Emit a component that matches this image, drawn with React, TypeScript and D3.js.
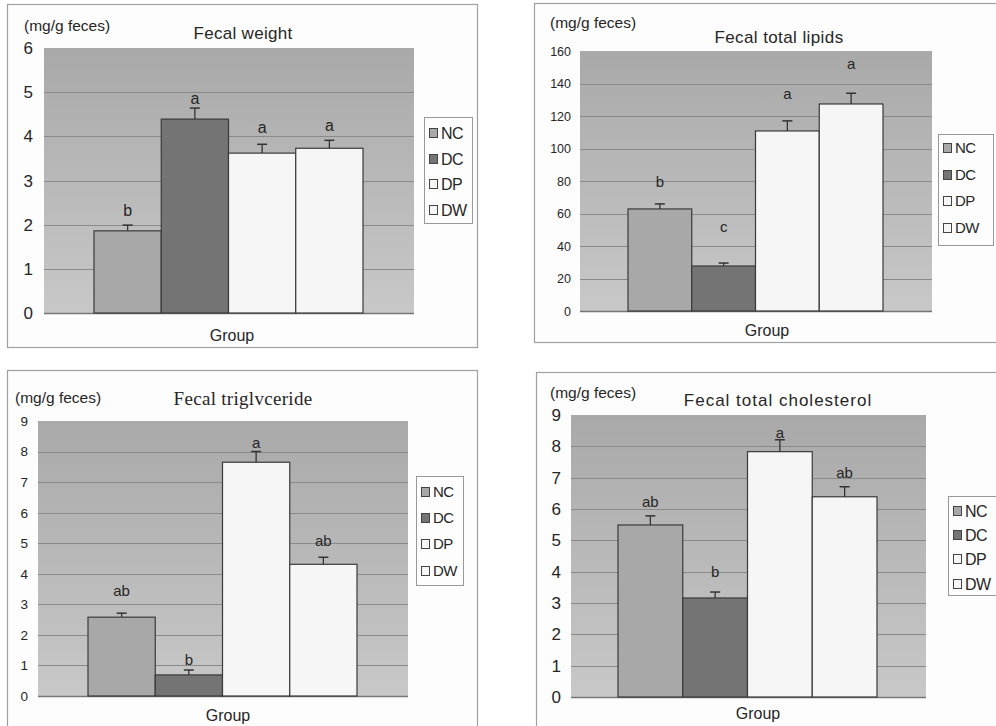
import React from "react";
import * as d3 from "d3";

const groups = ["NC", "DC", "DP", "DW"];
const groupColors = ["#a8a8a8", "#747474", "#f6f6f6", "#f6f6f6"];

const weightMeans = [1.86, 4.39, 3.62, 3.73];
const weightErr = [0.13, 0.25, 0.2, 0.18];
const weightLetters = ["b", "a", "a", "a"];
const weightLetterAt = [2.33, 4.86, 4.21, 4.25];
const weightTicks = [0, 1, 2, 3, 4, 5, 6];

const lipidMeans = [62.8, 27.7, 110.8, 127.4];
const lipidErr = [3.1, 1.8, 6.2, 6.6];
const lipidLetters = ["b", "c", "a", "a"];
const lipidLetterAt = [79.6, 52, 134, 152];
const lipidTicks = [0, 20, 40, 60, 80, 100, 120, 140, 160];

const tgMeans = [2.58, 0.69, 7.65, 4.31];
const tgErr = [0.13, 0.16, 0.35, 0.23];
const tgLetters = ["ab", "b", "a", "ab"];
const tgLetterAt = [3.43, 1.18, 8.3, 5.07];
const tgTicks = [0, 1, 2, 3, 4, 5, 6, 7, 8, 9];

const cholMeans = [5.49, 3.16, 7.83, 6.39];
const cholErr = [0.29, 0.19, 0.38, 0.32];
const cholLetters = ["ab", "b", "a", "ab"];
const cholLetterAt = [6.23, 3.99, 8.43, 7.16];
const cholTicks = [0, 1, 2, 3, 4, 5, 6, 7, 8, 9];

const unitLabel = "(mg/g feces)";
const xLabel = "Group";

type PanelCfg = {
  id: string;
  title: string;
  titleFont: string;
  means: number[];
  errs: number[];
  letters: string[];
  letterAt: number[];
  ticks: number[];
  box: [number, number, number, number];
  plot: [number, number, number, number];
  bars: [number, number];
  tickFont: number;
  tickX: number;
  unitXY: [number, number];
  titleXY: [number, number];
  titleSize: number;
  titleSpacing: number;
  groupXY: [number, number];
  legend: [number, number, number, number];
  legendItemsY: number[];
  legendFont: number;
  letterFont: number;
};

const sans = "'Liberation Sans', Arial, sans-serif";
const serif = "'Liberation Serif', 'DejaVu Serif', serif";
const ink = "#262626";

const panels: PanelCfg[] = [
  {
    id: "p1", title: "Fecal weight", titleFont: sans,
    means: weightMeans, errs: weightErr, letters: weightLetters, letterAt: weightLetterAt, ticks: weightTicks,
    box: [7, 4, 477, 347], plot: [44, 48, 414, 313], bars: [94, 363],
    tickFont: 17, tickX: 33, unitXY: [24, 26], titleXY: [243, 33], titleSize: 17, titleSpacing: 0.3,
    groupXY: [232, 335], legend: [424, 117, 472, 223], legendItemsY: [133, 159, 184, 210], legendFont: 16, letterFont: 16,
  },
  {
    id: "p2", title: "Fecal total lipids", titleFont: sans,
    means: lipidMeans, errs: lipidErr, letters: lipidLetters, letterAt: lipidLetterAt, ticks: lipidTicks,
    box: [534, 3, 1010, 342], plot: [580, 51, 932, 311], bars: [628, 883],
    tickFont: 12.5, tickX: 571, unitXY: [550, 23], titleXY: [779, 37], titleSize: 17, titleSpacing: 0.4,
    groupXY: [767, 330], legend: [938, 134, 993, 245], legendItemsY: [148, 175, 201, 228], legendFont: 15, letterFont: 15,
  },
  {
    id: "p3", title: "Fecal triglvceride", titleFont: serif,
    means: tgMeans, errs: tgErr, letters: tgLetters, letterAt: tgLetterAt, ticks: tgTicks,
    box: [7, 370, 477, 740], plot: [38, 421, 408, 696], bars: [88, 357],
    tickFont: 13.5, tickX: 28, unitXY: [15, 398], titleXY: [243, 398], titleSize: 19, titleSpacing: 0.3,
    groupXY: [228, 715], legend: [416, 476, 463, 585], legendItemsY: [492, 518, 544, 571], legendFont: 15, letterFont: 15,
  },
  {
    id: "p4", title: "Fecal total cholesterol", titleFont: sans,
    means: cholMeans, errs: cholErr, letters: cholLetters, letterAt: cholLetterAt, ticks: cholTicks,
    box: [536, 372, 1010, 740], plot: [571, 415, 926, 697], bars: [618, 877],
    tickFont: 17, tickX: 561, unitXY: [550, 393], titleXY: [778, 400], titleSize: 17, titleSpacing: 1,
    groupXY: [758, 713], legend: [948, 496, 1010, 595], legendItemsY: [511, 535, 559, 584], legendFont: 16, letterFont: 15,
  },
];

function Panel({ c }: { c: PanelCfg }) {
  const [px0, py0, px1, py1] = c.plot;
  const y = d3.scaleLinear().domain([0, c.ticks[c.ticks.length - 1]]).range([py1, py0]);
  const x = d3.scaleBand<string>().domain(groups).range(c.bars).paddingInner(0).paddingOuter(0);
  const bw = x.bandwidth();
  const [lx0, ly0, lx1, ly1] = c.legend;
  return (
    <g>
      <rect x={c.box[0] + 0.5} y={c.box[1] + 0.5} width={c.box[2] - c.box[0]} height={c.box[3] - c.box[1]} fill="#fdfdfd" stroke="#a0a0a0" strokeWidth={1.2} />
      <rect x={px0} y={py0} width={px1 - px0} height={py1 - py0} fill="url(#bgGrad)" />
      {c.ticks.slice(1, -1).map((t) => (
        <line key={t} x1={px0} x2={px1} y1={Math.round(y(t)) + 0.5} y2={Math.round(y(t)) + 0.5} stroke="#8a8a8a" strokeWidth={1} />
      ))}
      <line x1={px0} x2={px1} y1={py1 + 0.5} y2={py1 + 0.5} stroke="#777" strokeWidth={1.5} />
      {c.ticks.map((t) => (
        <text key={t} x={c.tickX} y={y(t)} dy="0.36em" textAnchor="end" fontFamily={sans} fontSize={c.tickFont} fill={ink}>{t}</text>
      ))}
      {groups.map((g, i) => {
        const bx = x(g) as number;
        const top = y(c.means[i]);
        const et = y(c.means[i] + c.errs[i]);
        const cx = bx + bw / 2;
        return (
          <g key={g}>
            <rect x={bx} y={top} width={bw} height={py1 - top} fill={groupColors[i]} stroke="#3a3a3a" strokeWidth={1.2} />
            <line x1={cx} x2={cx} y1={top} y2={et} stroke="#333" strokeWidth={1.3} />
            <line x1={cx - 5} x2={cx + 5} y1={et} y2={et} stroke="#333" strokeWidth={1.5} />
            <text x={cx} y={y(c.letterAt[i])} dy="0.35em" textAnchor="middle" fontFamily={sans} fontSize={c.letterFont} fill={ink}>{c.letters[i]}</text>
          </g>
        );
      })}
      <text x={c.unitXY[0]} y={c.unitXY[1]} dy="0.35em" fontFamily={sans} fontSize={15.5} fill={ink}>{unitLabel}</text>
      <text x={c.titleXY[0]} y={c.titleXY[1]} dy="0.35em" textAnchor="middle" fontFamily={c.titleFont} fontSize={c.titleSize} letterSpacing={c.titleSpacing} fill={ink}>{c.title}</text>
      <text x={c.groupXY[0]} y={c.groupXY[1]} dy="0.35em" textAnchor="middle" fontFamily={sans} fontSize={16} fill={ink}>{xLabel}</text>
      <rect x={lx0 + 0.5} y={ly0 + 0.5} width={lx1 - lx0} height={ly1 - ly0} fill="#fdfdfd" stroke="#999" strokeWidth={1} />
      {groups.map((g, i) => (
        <g key={g}>
          <rect x={lx0 + 5.5} y={c.legendItemsY[i] - 4.5} width={8} height={9} fill={groupColors[i]} stroke="#444" strokeWidth={1} />
          <text x={lx0 + 17} y={c.legendItemsY[i]} dy="0.36em" fontFamily={sans} fontSize={c.legendFont} letterSpacing={-0.5} fill={ink}>{g}</text>
        </g>
      ))}
    </g>
  );
}

export default function App() {
  return (
    <svg width={996} height={726} style={{ position: "absolute", left: 0, top: 0, background: "#fff" }}>
      <defs>
        <linearGradient id="bgGrad" x1="0" y1="0" x2="0" y2="1">
          <stop offset="0" stopColor="#a9a9a9" />
          <stop offset="1" stopColor="#c8c8c8" />
        </linearGradient>
      </defs>
      {panels.map((p) => (
        <Panel key={p.id} c={p} />
      ))}
    </svg>
  );
}
